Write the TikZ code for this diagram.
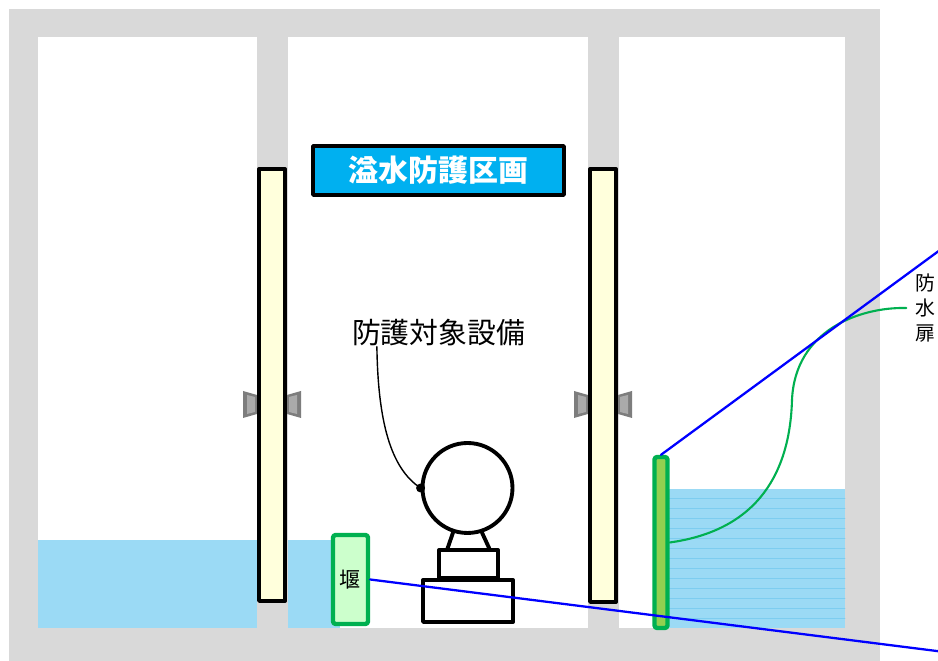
\documentclass[tikz,border=0pt]{standalone}
\usepackage{fontspec}
\setmainfont{Noto Sans CJK JP}
\usetikzlibrary{calc}
\definecolor{wallgray}{RGB}{217,217,217}
\definecolor{watercyan}{RGB}{155,218,245}
\definecolor{waterline}{RGB}{125,205,240}
\definecolor{dooryellow}{RGB}{255,255,220}
\definecolor{hingegray}{RGB}{125,125,125}
\definecolor{hingelight}{RGB}{170,170,170}
\definecolor{titleblue}{RGB}{0,176,240}
\definecolor{guardgreen}{RGB}{0,176,80}
\definecolor{weirfill}{RGB}{204,255,204}
\definecolor{floodfill}{RGB}{146,208,80}
\definecolor{refblue}{RGB}{0,0,255}

\tikzset{
  titlebox/.style={draw=black, line width=2.2pt, fill=titleblue, text=white,
    font=\bfseries\fontsize{17}{20}\selectfont, minimum width=5.02cm,
    minimum height=0.98cm, inner sep=0pt},
  weirbox/.style={draw=guardgreen, fill=weirfill, line width=2.5pt,
    rounded corners=1.5pt, minimum width=0.7cm, minimum height=1.78cm,
    inner sep=0pt, font=\fontsize{12}{14}\selectfont},
  floodbar/.style={draw=guardgreen, fill=floodfill, line width=2.5pt,
    rounded corners=1.5pt, minimum width=0.26cm, minimum height=3.42cm,
    inner sep=0pt},
  doorpanel/.style={draw=black, line width=2.2pt, fill=dooryellow},
  equipline/.style={draw=black, line width=2.2pt}
}

\begin{document}
\begin{tikzpicture}[line cap=round,line join=round,x=0.02cm,y=-0.02cm]
\useasboundingbox (0,0) rectangle (938,661);
\clip (0,0) rectangle (938,661);

% building walls and the three rooms
\fill[wallgray] (9,9) rectangle (880,661);
\fill[white] (38,37) rectangle (257,628);
\fill[white] (288,37) rectangle (588,628);
\fill[white] (619,37) rectangle (845,628);

% flooded water
\fill[watercyan] (38,540) rectangle (257,628);
\fill[watercyan] (288,540) rectangle (340,628);
\fill[watercyan] (668,489) rectangle (845,628);
\foreach \y in {498,508,...,622}
\draw[waterline, line width=0.3pt] (668,\y) -- (845,\y);

% hinges on both sides of each door
\foreach \xd/\s in {257/-1, 287/1, 588/-1, 618/1}
{
\fill[hingegray] (\xd,395) -- ({\xd+\s*14},391) -- ({\xd+\s*14},418) -- (\xd,414) -- cycle;
\fill[hingelight] ({\xd+\s*2},397) -- ({\xd+\s*10},395) -- ({\xd+\s*10},414) -- ({\xd+\s*2},412) -- cycle;
}

% doors
\draw[doorpanel] (259,169) rectangle (285,601);
\draw[doorpanel] (590,169) rectangle (616,602);

\node[titlebox] (title) at (438.5,170.5) {溢水防護区画};

% protected equipment
\node[equipline, circle, minimum size=1.8cm, inner sep=0pt] (pump) at (467.5,488) {};
\draw[equipline] (pump.-108) -- (447,550);
\draw[equipline] (pump.-72) -- (490,550);
\draw[equipline] (439,550) rectangle (498,578);
\draw[equipline] (423,580) rectangle (513,622);

\node[font=\fontsize{16.4}{20}\selectfont, inner sep=0pt] (target) at (438.5,333) {防護対象設備};
\draw[line width=0.8pt] ($(target.south west)!0.145!(target.south east)$)
  .. controls (378,420) and (390,468) .. (pump.west);
\fill (pump.west) circle[radius=4.5];

% weir and flood door
\node[weirbox] (weir) at (350.5,579.5) {堰};
\node[floodbar] (flood) at (661,542.5) {};

\node[font=\fontsize{11.3}{14.2}\selectfont, align=center, inner sep=0pt] (floodlbl) at (925.5,308) {防\\水\\扉};
\draw[guardgreen, line width=1.2pt] (flood.east)
  .. controls (760,530) and (790,470) .. (792,400)
  .. controls (795,330) and (860,307) .. ($(floodlbl.west)+(-9,0)$);

% leader lines running off to the right
\coordinate (doorref) at (1000,206);
\coordinate (weirref) at (1000,659);
\draw[refblue, line width=1.3pt] (flood.north) -- (doorref);
\draw[refblue, line width=1.3pt] (weir.east) -- (weirref);
\end{tikzpicture}
\end{document}
